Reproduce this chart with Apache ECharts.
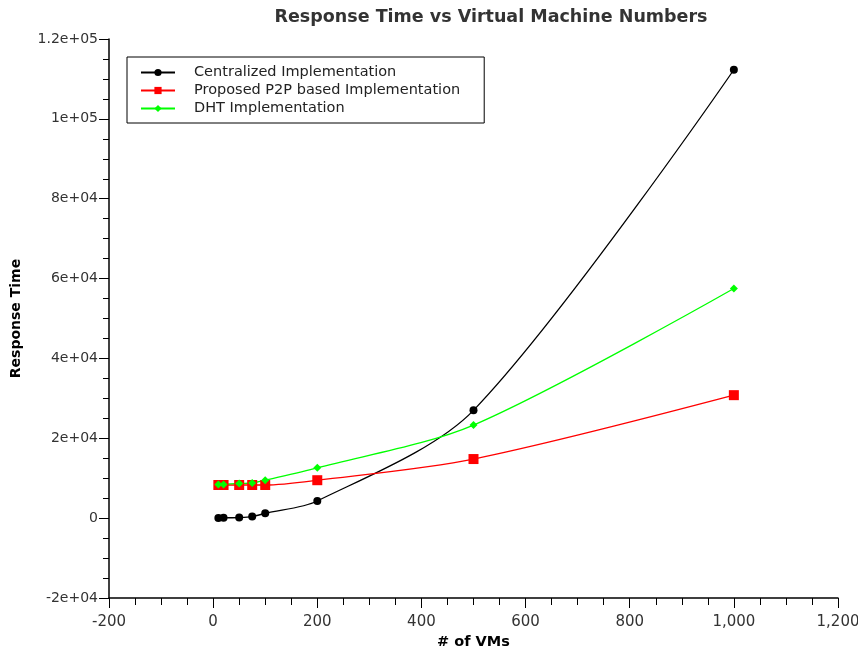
<!DOCTYPE HTML>
<html>
<head>
    <meta charset="utf-8">
    <title>Response Time vs Virtual Machine Numbers</title>
    <style>
        html, body { margin: 0; padding: 0; background: #fff; }
        #container { width: 858px; height: 652px; }
    </style>
</head>
<body>
    <div id="container"></div>
    <script src="https://cdn.jsdelivr.net/npm/echarts@6/dist/echarts.min.js"></script>
    <script>
        // 数据
        var vms = [10, 20, 50, 75, 100, 200, 500, 1000];
        var centralized = [50, 80, 150, 400, 1200, 4300, 27000, 112300];
        var p2p = [8300, 8300, 8300, 8300, 8300, 9500, 14800, 30800];
        var dht = [8400, 8450, 8700, 8800, 9500, 12600, 23300, 57500];
        var seriesNames = ['Centralized Implementation', 'Proposed P2P based Implementation', 'DHT Implementation'];

        function pairs(ys) {
            var out = [];
            for (var i = 0; i < vms.length; i++) {
                out.push([vms[i], ys[i]]);
            }
            return out;
        }

        function expLabel(v) {
            if (v === 0) return '0';
            var s = v.toExponential();
            return s.replace(/e([+-])(\d)$/, 'e$10$2');
        }

        var dom = document.getElementById('container');
        var myChart = echarts.init(dom, null, { renderer: 'canvas' });
        var font = 'DejaVu Sans';
        var option = {
            animation: false,
            backgroundColor: '#fff',
            title: {
                text: 'Response Time vs Virtual Machine Numbers',
                left: 486,
                textAlign: 'center',
                top: 3,
                textStyle: { fontFamily: font, fontSize: 17.5, fontWeight: 'bold', color: '#333' }
            },
            legend: {
                orient: 'vertical',
                left: 127,
                top: 57,
                padding: [8, 24, 7, 13],
                itemGap: 3,
                itemWidth: 34,
                itemHeight: 9,
                borderColor: '#000',
                borderWidth: 1,
                textStyle: { fontFamily: font, fontSize: 14.5, color: '#222', padding: [0, 0, 0, 14] },
                data: seriesNames
            },
            grid: { left: 109, right: 20, top: 39, bottom: 54, outerBoundsMode: 'none', containLabel: false },
            xAxis: {
                type: 'value',
                min: -200,
                max: 1200,
                interval: 200,
                name: '# of VMs',
                nameLocation: 'middle',
                nameGap: 37,
                nameTextStyle: { fontFamily: font, fontSize: 14.5, fontWeight: 'bold', color: '#000' },
                axisLine: { onZero: false, lineStyle: { color: '#000', width: 1.5 } },
                axisTick: { length: 10, lineStyle: { color: '#000' } },
                minorTick: { show: true, splitNumber: 4, length: 7, lineStyle: { color: '#000' } },
                splitLine: { show: false },
                axisLabel: {
                    fontFamily: font, fontSize: 15, color: '#333', margin: 17,
                    formatter: function (v) { return v.toLocaleString('en-US'); }
                }
            },
            yAxis: {
                type: 'value',
                min: -20000,
                max: 120000,
                interval: 20000,
                name: 'Response Time',
                nameLocation: 'middle',
                nameGap: 86,
                nameTextStyle: { fontFamily: font, fontSize: 14, fontWeight: 'bold', color: '#000' },
                axisLine: { show: true, onZero: false, lineStyle: { color: '#000', width: 1.5 } },
                axisTick: { show: true, length: 10, lineStyle: { color: '#000' } },
                minorTick: { show: true, splitNumber: 4, length: 6, lineStyle: { color: '#000' } },
                splitLine: { show: false },
                axisLabel: { fontFamily: font, fontSize: 14, color: '#333', margin: 11, formatter: expLabel }
            },
            series: [{
                name: seriesNames[0],
                type: 'line',
                data: pairs(centralized),
                smooth: 0.3,
                symbol: 'circle',
                symbolSize: 8,
                itemStyle: { color: '#000' },
                lineStyle: { color: '#000', width: 1.3 }
            }, {
                name: seriesNames[1],
                type: 'line',
                data: pairs(p2p),
                smooth: 0.3,
                symbol: 'rect',
                symbolSize: 10,
                itemStyle: { color: '#ff0000' },
                lineStyle: { color: '#ff0000', width: 1.3 }
            }, {
                name: seriesNames[2],
                type: 'line',
                data: pairs(dht),
                smooth: 0.3,
                symbol: 'diamond',
                symbolSize: 8,
                itemStyle: { color: '#00ff00' },
                lineStyle: { color: '#00ff00', width: 1.3 }
            }]
        };
        myChart.setOption(option);
    </script>
</body>
</html>
